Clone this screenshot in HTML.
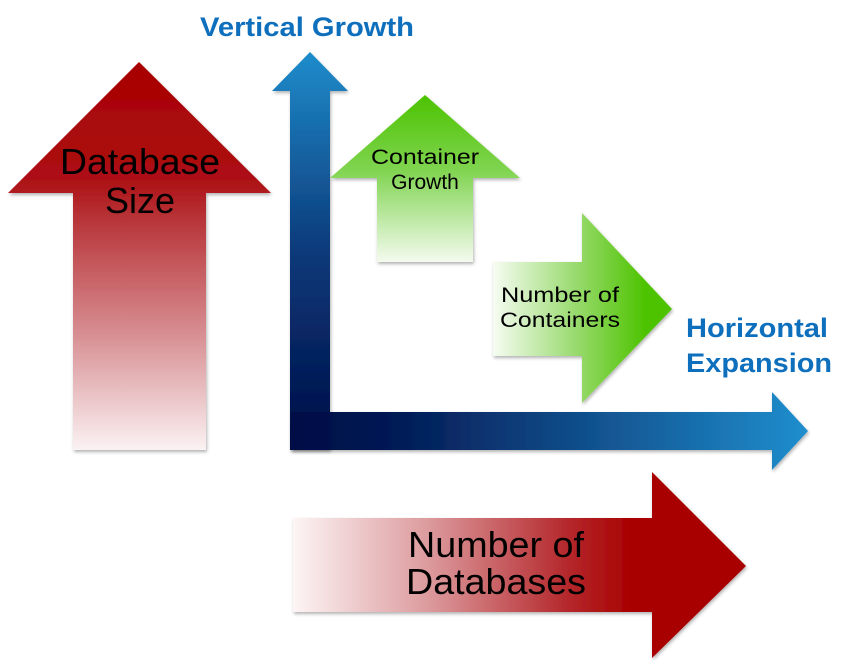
<!DOCTYPE html>
<html><head><meta charset="utf-8"><style>
html,body{margin:0;padding:0;background:#fff;}
svg{display:block;}
</style></head><body>
<svg width="851" height="670" viewBox="0 0 851 670" xmlns="http://www.w3.org/2000/svg" font-family="Liberation Sans, Arial, sans-serif">
<defs>
<linearGradient id="rv" x1="0" y1="62" x2="0" y2="450" gradientUnits="userSpaceOnUse">
<stop offset="0" stop-color="#a80000"/><stop offset="0.3" stop-color="#ac1014"/><stop offset="0.42" stop-color="#b9393d"/><stop offset="0.7" stop-color="#d78e92"/><stop offset="1" stop-color="#fbf2f3"/></linearGradient>
<linearGradient id="rh" x1="293" y1="0" x2="746" y2="0" gradientUnits="userSpaceOnUse">
<stop offset="0" stop-color="#fdf5f5"/><stop offset="0.3" stop-color="#dc9a9d"/><stop offset="0.6" stop-color="#b52a2e"/><stop offset="0.75" stop-color="#a80000"/><stop offset="1" stop-color="#a80000"/></linearGradient>
<linearGradient id="bv" x1="0" y1="52" x2="0" y2="450" gradientUnits="userSpaceOnUse">
<stop offset="0" stop-color="#1f8ccb"/><stop offset="0.5" stop-color="#0c3a7a"/><stop offset="1" stop-color="#000c45"/></linearGradient>
<linearGradient id="bh" x1="290" y1="0" x2="808" y2="0" gradientUnits="userSpaceOnUse">
<stop offset="0" stop-color="#000c45"/><stop offset="0.2" stop-color="#031a55"/><stop offset="1" stop-color="#208ecd"/></linearGradient>
<linearGradient id="gv" x1="0" y1="95" x2="0" y2="262" gradientUnits="userSpaceOnUse">
<stop offset="0" stop-color="#4cc300"/><stop offset="0.45" stop-color="#80d450"/><stop offset="1" stop-color="#f4fbef"/></linearGradient>
<linearGradient id="gh" x1="493" y1="0" x2="672" y2="0" gradientUnits="userSpaceOnUse">
<stop offset="0" stop-color="#f6fcf2"/><stop offset="0.45" stop-color="#9bdb72"/><stop offset="0.85" stop-color="#4ec300"/><stop offset="1" stop-color="#4ec300"/></linearGradient>
<filter id="sh" x="-10%" y="-10%" width="120%" height="120%"><feDropShadow dx="1" dy="2" stdDeviation="1.5" flood-color="#000" flood-opacity="0.3"/></filter>
</defs>

<polygon filter="url(#sh)" fill="url(#rv)" points="139,62 271,193 206,193 206,450 73,450 73,193 8,193"/>
<polygon filter="url(#sh)" fill="url(#bv)" points="310,52 348,91 330,91 330,412 330,450 290,450 290,91 272,91"/>
<polygon filter="url(#sh)" fill="url(#bh)" points="291,412 772,412 772,392 808,431 772,470 772,450 291,450"/>
<polygon filter="url(#sh)" fill="url(#gv)" points="425,95 520,178 473,178 473,262 377,262 377,178 330,178"/>
<polygon filter="url(#sh)" fill="url(#gh)" points="493,262 582,262 582,213 672,309 582,403 582,356 493,356"/>
<polygon filter="url(#sh)" fill="url(#rh)" points="293,518 652,518 652,472 746,566 652,658 652,612 293,612"/>

<text x="200" y="36" font-size="27" font-weight="bold" fill="#0e6fbd" textLength="214" lengthAdjust="spacingAndGlyphs">Vertical Growth</text>
<text x="686" y="337" font-size="27" font-weight="bold" fill="#0e6fbd" textLength="142" lengthAdjust="spacingAndGlyphs">Horizontal</text>
<text x="686" y="372" font-size="27" font-weight="bold" fill="#0e6fbd" textLength="146" lengthAdjust="spacingAndGlyphs">Expansion</text>

<text x="60" y="174" font-size="36" fill="#000" textLength="160" lengthAdjust="spacingAndGlyphs">Database</text>
<text x="140" y="213" text-anchor="middle" font-size="36" fill="#000">Size</text>

<text x="371" y="164" font-size="21" fill="#000" textLength="108" lengthAdjust="spacingAndGlyphs">Container</text>
<text x="425" y="189" text-anchor="middle" font-size="21" fill="#000">Growth</text>

<text x="501" y="302" font-size="21" fill="#000" textLength="118" lengthAdjust="spacingAndGlyphs">Number of</text>
<text x="500" y="327" font-size="21" fill="#000" textLength="120" lengthAdjust="spacingAndGlyphs">Containers</text>

<text x="408" y="557" font-size="36" fill="#000" textLength="176" lengthAdjust="spacingAndGlyphs">Number of</text>
<text x="406" y="594" font-size="36" fill="#000" textLength="180" lengthAdjust="spacingAndGlyphs">Databases</text>
</svg>
</body></html>
